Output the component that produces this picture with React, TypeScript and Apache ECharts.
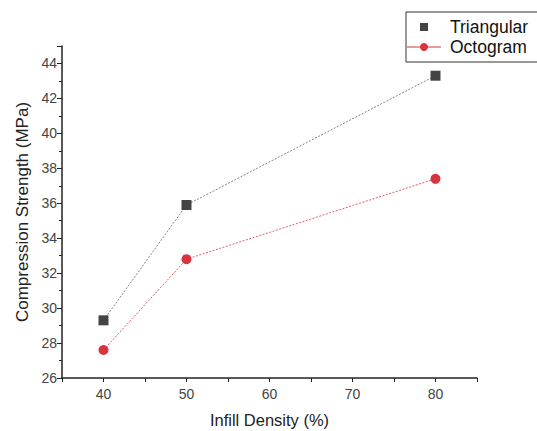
import React, { useEffect, useRef } from "react";
import * as echarts from "echarts";

const densities = [40, 50, 80];
const triangular = [29.3, 35.9, 43.3];
const octogram = [27.6, 32.8, 37.4];
const seriesNames = ["Triangular", "Octogram"];

export default function App() {
  const ref = useRef<HTMLDivElement>(null);
  useEffect(() => {
    const chart = echarts.init(ref.current!, null, { renderer: "svg" });
    const font = "Liberation Sans, Arial, sans-serif";
    chart.setOption({
      animation: false,
      backgroundColor: "#fff",
      grid: { left: 62, right: 60, top: 46, bottom: 53, outerBoundsMode: "none", containLabel: false },
      legend: {
        left: 406,
        top: 12,
        orient: "vertical",
        itemWidth: 34,
        itemHeight: 10,
        itemGap: 2,
        itemStyle: { borderWidth: 0 },
        padding: [6, 40, 6, 0],
        borderColor: "#333",
        borderWidth: 1,
        textStyle: { fontFamily: font, fontSize: 17.5, color: "#111", padding: [0, 0, 0, 4] },
        data: [
          { name: seriesNames[0], lineStyle: { opacity: 0 } },
          { name: seriesNames[1], lineStyle: { type: "solid", width: 1 } },
        ],
      },
      xAxis: {
        type: "value",
        min: 35,
        max: 85,
        interval: 5,
        name: "Infill Density (%)",
        nameLocation: "middle",
        nameGap: 33,
        nameTextStyle: { fontFamily: font, fontSize: 16.5, color: "#222" },
        axisLine: { lineStyle: { color: "#222", width: 1.5 } },
        axisTick: { show: true, length: 4, lineStyle: { color: "#222" } },
        axisLabel: {
          fontFamily: font,
          fontSize: 14,
          color: "#444",
          margin: 9,
          formatter: (v: number) => (v % 10 === 0 && v >= 40 && v <= 80 ? String(v) : ""),
        },
        splitLine: { show: false },
      },
      yAxis: {
        type: "value",
        min: 26,
        max: 45,
        interval: 2,
        name: "Compression Strength (MPa)",
        nameLocation: "middle",
        nameGap: 31,
        nameTextStyle: { fontFamily: font, fontSize: 17, color: "#222" },
        axisLine: { show: true, lineStyle: { color: "#222", width: 1.5 } },
        axisTick: { show: true, length: 5, lineStyle: { color: "#222" } },
        minorTick: { show: true, splitNumber: 2, length: 3, lineStyle: { color: "#222" } },
        axisLabel: {
          fontFamily: font,
          fontSize: 14,
          color: "#444",
          margin: 5,
          showMaxLabel: false,
          formatter: (v: number) => (v % 2 === 0 ? String(v) : ""),
        },
        splitLine: { show: false },
      },
      series: [
        {
          name: seriesNames[0],
          type: "line",
          data: densities.map((d, i) => [d, triangular[i]]),
          symbol: "rect",
          symbolSize: 10,
          itemStyle: { color: "#444" },
          lineStyle: { color: "#666", width: 0.8, type: [2, 1.5] },
        },
        {
          name: seriesNames[1],
          type: "line",
          data: densities.map((d, i) => [d, octogram[i]]),
          symbol: "circle",
          symbolSize: 10,
          itemStyle: { color: "#d7343d" },
          lineStyle: { color: "#d7343d", width: 0.8, type: [2, 1.5] },
        },
      ],
    });
    return () => chart.dispose();
  }, []);
  return <div ref={ref} style={{ width: 537, height: 431, position: "absolute", left: 0, top: 0 }} />;
}
